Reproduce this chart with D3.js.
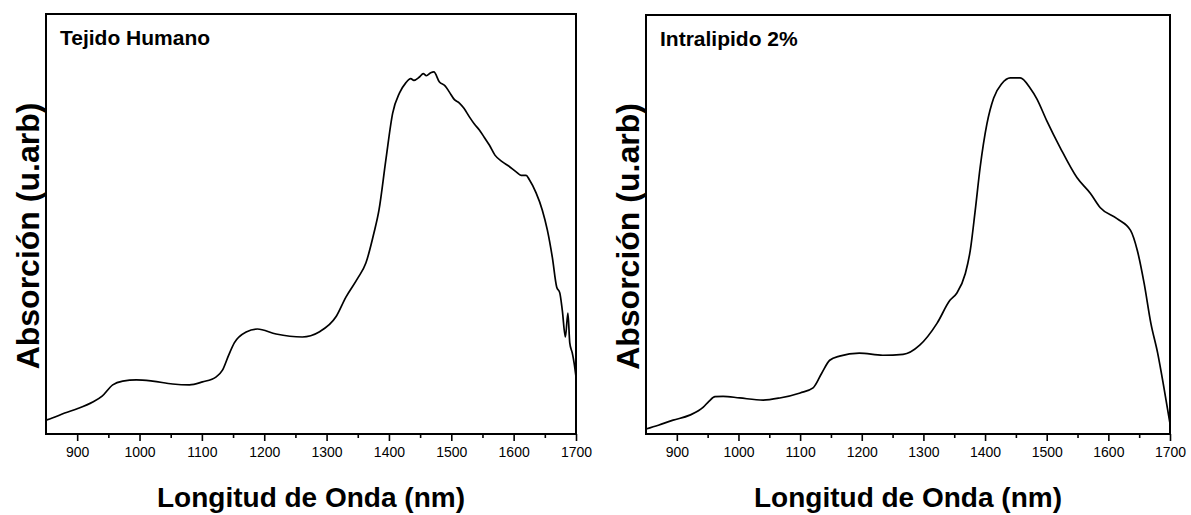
<!DOCTYPE html>
<html>
<head>
<meta charset="utf-8">
<script src="https://cdn.jsdelivr.net/npm/d3@7"></script>
<style>
  body { margin: 0; background: #fff; }
  text { font-family: "Liberation Sans", Arial, sans-serif; fill: #000; }
</style>
</head>
<body>
<script>
//Data (wavelength in nm, absorption in arbitrary units)
var tejidoNm = [850, 860, 880, 900, 925, 940, 957, 973, 995, 1021, 1053, 1080, 1101, 1123, 1133, 1143, 1152,
    1171, 1189, 1219, 1261, 1288, 1315, 1331, 1350, 1363, 1376, 1384, 1395, 1406, 1417, 1427, 1435, 1440,
    1449, 1455, 1460, 1467, 1472, 1481, 1490, 1497, 1505, 1513, 1520, 1529, 1537, 1545, 1553, 1561, 1570,
    1582, 1592, 1604, 1612, 1620, 1625, 1636, 1646, 1654, 1662, 1669, 1674, 1678, 1683, 1687, 1690, 1694,
    1697, 1700];
var tejidoAbs = [3.3, 3.8, 5.0, 6.0, 7.6, 9.0, 11.7, 12.6, 12.9, 12.6, 11.9, 11.7, 12.4, 13.6, 15.2, 18.8, 21.7,
    24.3, 25.0, 23.8, 23.1, 24.3, 27.9, 32.6, 37.1, 40.7, 47.9, 53.3, 65.2, 76.4, 81.2, 83.6, 84.6, 84.2,
    85.0, 85.8, 85.3, 86.0, 86.2, 83.8, 82.9, 81.4, 79.6, 78.8, 77.6, 75.5, 73.8, 72.4, 70.6, 68.8, 66.4,
    64.8, 63.8, 62.4, 61.6, 61.6, 60.6, 57.4, 53.3, 48.6, 42.1, 35.0, 33.6, 29.5, 23.1, 28.8, 21.7, 19.3,
    16.9, 13.6];

var intraNm = [850, 870, 894, 921, 943, 952, 962, 975, 1002, 1040, 1067, 1100, 1121, 1135, 1148, 1164, 1196, 1234,
    1267, 1294, 1322, 1343, 1354, 1368, 1376, 1384, 1392, 1403, 1414, 1427, 1441, 1457, 1473, 1484, 1500,
    1522, 1549, 1571, 1587, 1614, 1636, 1647, 1658, 1669, 1680, 1690, 1700];
var intraAbs = [1.2, 2.1, 3.3, 4.5, 6.4, 7.8, 8.9, 9.0, 8.6, 8.1, 8.6, 9.8, 11.0, 14.5, 17.6, 18.6, 19.3, 18.8,
    19.0, 21.2, 26.4, 31.9, 33.6, 38.3, 43.8, 53.3, 63.6, 74.0, 80.2, 83.6, 85.0, 85.0, 82.6, 80.0, 74.8,
    68.3, 61.2, 57.4, 54.0, 51.4, 48.6, 43.8, 36.0, 26.4, 19.3, 11.2, 2.5];

var xMajor = [900, 1000, 1100, 1200, 1300, 1400, 1500, 1600, 1700];
var xMinor = [950, 1050, 1150, 1250, 1350, 1450, 1550, 1650];

//Main SVG
var svg = d3.select("body")
    .append("svg")
    .attr("width", 1191)
    .attr("height", 515);

function drawPanel(left, top, width, height, nm, abs, label) {
    var g = svg.append("g")
        .attr("transform", "translate(" + left + "," + top + ")");

    var x = d3.scaleLinear()
        .domain([850, 1700])
        .range([0, width]);

    var y = d3.scaleLinear()
        .domain([0, 100])
        .range([height, 0]);

    //Major ticks with labels
    var xAxis = d3.axisBottom(x)
        .tickValues(xMajor)
        .tickSize(7)
        .tickPadding(6)
        .tickFormat(d3.format("d"));

    var ax = g.append("g")
        .attr("transform", "translate(0," + height + ")")
        .call(xAxis);
    ax.select(".domain").remove();
    ax.selectAll("line").attr("stroke", "#000").attr("stroke-width", 1.6);
    ax.selectAll("text")
        .style("font-size", "14px")
        .attr("fill", "#000");

    //Minor ticks
    g.append("g")
        .attr("transform", "translate(0," + height + ")")
        .call(d3.axisBottom(x).tickValues(xMinor).tickSize(4).tickFormat(""))
        .call(function(s) {
            s.select(".domain").remove();
            s.selectAll("line").attr("stroke", "#000").attr("stroke-width", 1.6);
        });

    //Curve
    var line = d3.line()
        .x(function(d, i) { return x(nm[i]); })
        .y(function(d) { return y(d); })
        .curve(d3.curveMonotoneX);

    g.append("path")
        .datum(abs)
        .attr("fill", "none")
        .attr("stroke", "#000")
        .attr("stroke-width", 1.7)
        .attr("d", line);

    //Frame
    g.append("rect")
        .attr("width", width)
        .attr("height", height)
        .attr("fill", "none")
        .attr("stroke", "#000")
        .attr("stroke-width", 2);

    //Panel label
    g.append("text")
        .attr("x", 14)
        .attr("y", 31)
        .style("font-size", "21px")
        .style("font-weight", "bold")
        .text(label);

    //Axis titles
    svg.append("text")
        .attr("x", left + width / 2)
        .attr("y", 507)
        .attr("text-anchor", "middle")
        .style("font-size", "28px")
        .style("font-weight", "bold")
        .text("Longitud de Onda (nm)");

    svg.append("text")
        .attr("transform", "translate(" + (left - 7) + "," + (top + height / 2 + 12) + ") rotate(-90)")
        .attr("text-anchor", "middle")
        .style("font-size", "32px")
        .style("font-weight", "bold")
        .text("Absorción (u.arb)");
}

drawPanel(46, 14, 530, 420, tejidoNm, tejidoAbs, "Tejido Humano");
drawPanel(646, 15, 524, 419, intraNm, intraAbs, "Intralipido 2%");
</script>
</body>
</html>
